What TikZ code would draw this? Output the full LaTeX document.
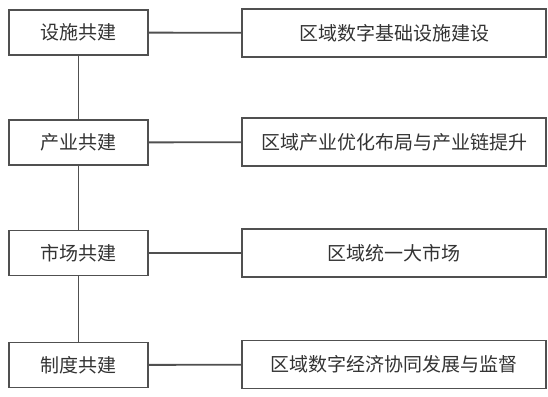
\documentclass[tikz,border=0pt]{standalone}
\usepackage{fontspec}
\newfontfamily\cjk{Noto Sans CJK SC}
\definecolor{linec}{HTML}{505050}
\definecolor{textc}{HTML}{333333}
\begin{document}
\begin{tikzpicture}[x=1pt,y=-1pt,
  leftbox/.style={draw=linec,line width=1.8pt,minimum width=139pt,minimum height=45pt,inner sep=0pt,font=\cjk\fontsize{19}{22}\selectfont,text=textc},
  rightbox/.style={draw=linec,line width=1.8pt,minimum width=304pt,minimum height=48pt,inner sep=0pt,font=\cjk\fontsize{19}{22}\selectfont,text=textc},
  conn/.style={draw=linec,line width=1.8pt}]
\useasboundingbox (0,0) rectangle (548,396);
\node[leftbox] (l1) at (78.5,32.5) {设施共建};
\node[leftbox] (l2) at (78.5,142.5) {产业共建};
\node[leftbox] (l3) at (78.5,253) {市场共建};
\node[leftbox] (l4) at (78.5,365) {制度共建};
\node[rightbox] (r1) at (394,33) {区域数字基础设施建设};
\node[rightbox] (r2) at (394,142) {区域产业优化布局与产业链提升};
\node[rightbox] (r3) at (394,253) {区域统一大市场};
\node[rightbox] (r4) at (394,364.5) {区域数字经济协同发展与监督};
\draw[conn] (l1) -- (l2);
\draw[conn] (l2) -- (l3);
\draw[conn] (l3) -- (l4);
\draw[conn] (l1) -- (r1);
\draw[conn] (l2) -- (r2);
\draw[conn] (l3) -- (r3);
\draw[conn] (l4) -- (r4);
\end{tikzpicture}
\end{document}
